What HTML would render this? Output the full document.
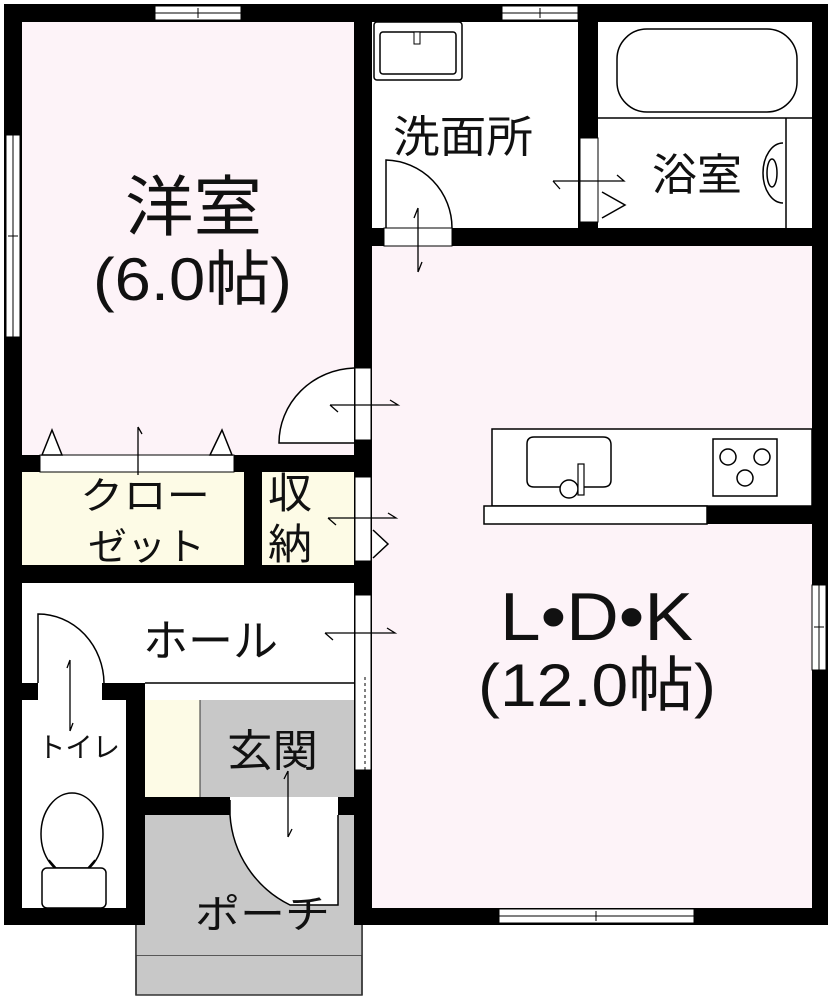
<!DOCTYPE html>
<html><head><meta charset="utf-8"><style>
html,body{margin:0;padding:0;background:#fff;}
svg{display:block;}
text{font-family:"Liberation Sans","Noto Sans CJK JP",sans-serif;fill:#111;}
</style></head><body>
<svg width="832" height="1000" viewBox="0 0 832 1000" xmlns="http://www.w3.org/2000/svg">
<rect x="136" y="900" width="226" height="95" fill="#c8c8c8" stroke="#333" stroke-width="1.5"/>
<line x1="136" y1="955" x2="362" y2="955" stroke="#333" stroke-width="1.5"/>
<rect x="4" y="4" width="824" height="921" fill="#000"/>
<rect x="22" y="22" width="332" height="433" fill="#fdf3f8"/>
<rect x="372" y="22" width="206" height="206" fill="#fff"/>
<rect x="598" y="22" width="214" height="206" fill="#fff"/>
<rect x="372" y="246" width="440" height="662" fill="#fdf3f8"/>
<rect x="22" y="472" width="222" height="93" fill="#fdfbe6"/>
<rect x="262" y="472" width="92" height="93" fill="#fdfbe6"/>
<rect x="22" y="583" width="332" height="100" fill="#fff"/>
<rect x="22" y="700" width="104" height="208" fill="#fff"/>
<rect x="145" y="683" width="209" height="17" fill="#fff"/>
<rect x="145" y="700" width="55" height="97" fill="#fdfbe6"/>
<rect x="200" y="700" width="154" height="97" fill="#c8c8c8"/>
<rect x="145" y="815" width="209" height="110" fill="#c8c8c8"/>
<rect x="136" y="925" width="226" height="30" fill="#c8c8c8"/>
<line x1="136" y1="925" x2="136" y2="995" stroke="#333" stroke-width="1.5"/>
<line x1="362" y1="925" x2="362" y2="995" stroke="#333" stroke-width="1.5"/>
<rect x="384" y="228" width="68" height="18" fill="#fff" stroke="#000" stroke-width="1"/>
<rect x="230" y="797" width="108" height="18" fill="#fff"/>
<path d="M230 800 L230 815 A108 108 0 0 0 290 905 L338 905 L338 815" fill="#fff" stroke="#000" stroke-width="1.5"/>
<rect x="38" y="683" width="64" height="17" fill="#fff"/>
<g fill="#fff" stroke="#000" stroke-width="1">
<rect x="155" y="6" width="86" height="14"/><line x1="155" y1="13" x2="241" y2="13"/><line x1="198" y1="8" x2="198" y2="18"/>
<rect x="502" y="6" width="76" height="14"/><line x1="502" y1="13" x2="578" y2="13"/><line x1="540" y1="8" x2="540" y2="18"/>
<rect x="6" y="135" width="14" height="202"/><line x1="13" y1="135" x2="13" y2="337"/><line x1="8" y1="236" x2="18" y2="236"/>
<rect x="812" y="585" width="14" height="85"/><line x1="819" y1="585" x2="819" y2="670"/><line x1="814" y1="627" x2="824" y2="627"/>
<rect x="499" y="909" width="195" height="14"/><line x1="499" y1="916" x2="694" y2="916"/><line x1="596" y1="911" x2="596" y2="921"/>
<rect x="355" y="368" width="16" height="72"/>
<rect x="355" y="477" width="16" height="84"/>
<rect x="355" y="595" width="16" height="175"/>
<rect x="580" y="138" width="18" height="84"/>
</g>
<rect x="374" y="22" width="88" height="58" rx="3" fill="#fff" stroke="#000" stroke-width="1.5"/>
<rect x="380" y="32" width="76" height="42" rx="3" fill="#fff" stroke="#000" stroke-width="1.5"/>
<rect x="414" y="32" width="6" height="12" fill="#fff" stroke="#000" stroke-width="1"/>
<line x1="598" y1="118" x2="812" y2="118" stroke="#000" stroke-width="1.5"/>
<rect x="617" y="29" width="180" height="83" rx="30" fill="#fff" stroke="#000" stroke-width="1.5"/>
<line x1="786" y1="118" x2="786" y2="228" stroke="#000" stroke-width="1.5"/>
<ellipse cx="772" cy="173" rx="5" ry="14" fill="none" stroke="#000" stroke-width="1.5"/>
<path d="M783 143 A20 30 0 0 0 783 203" fill="none" stroke="#000" stroke-width="1.5"/>
<path d="M602 192 L625 205 L602 218" fill="#fff" stroke="#000" stroke-width="1.5"/>
<path d="M386 228 L386 160 A68 68 0 0 1 452 228" fill="none" stroke="#000" stroke-width="1.5"/>
<path d="M354 368 A78 75 0 0 0 279 443 L354 443" fill="#fff" stroke="#000" stroke-width="1.5"/>
<rect x="40" y="455" width="194" height="17" fill="#fff" stroke="#000" stroke-width="1"/>
<path d="M42 455 L52 430 L62 455 Z M210 455 L222 430 L232 455 Z" fill="#fff" stroke="#000" stroke-width="1.5"/>
<path d="M373 530 L388 544 L373 558" fill="#fff" stroke="#000" stroke-width="1.5"/>
<rect x="492" y="429" width="320" height="77" fill="#fff" stroke="#000" stroke-width="1.5"/>
<rect x="484" y="506" width="223" height="18" fill="#fff" stroke="#000" stroke-width="1.5"/>
<rect x="707" y="506" width="105" height="18" fill="#000"/>
<path d="M534 437 L603 437 Q611 437 611 445 L611 480 Q611 487 603 487 L576 487 Q568 497 561 487 L534 487 Q527 487 527 480 L527 444 Q527 437 534 437 Z" fill="#fff" stroke="#000" stroke-width="1.5"/>
<circle cx="569" cy="489" r="9" fill="#fff" stroke="#000" stroke-width="1.5"/>
<rect x="578" y="464" width="6" height="31" fill="#fff" stroke="#000" stroke-width="1.2"/>
<rect x="713" y="439" width="64" height="57" fill="#fff" stroke="#000" stroke-width="1.5"/>
<circle cx="728" cy="457" r="8" fill="none" stroke="#000" stroke-width="1.5"/>
<circle cx="762" cy="457" r="8" fill="none" stroke="#000" stroke-width="1.5"/>
<circle cx="745" cy="478" r="8" fill="none" stroke="#000" stroke-width="1.5"/>
<path d="M38 683 L38 614 A66 70 0 0 1 104 683" fill="none" stroke="#000" stroke-width="1.5"/>
<line x1="145" y1="683" x2="354" y2="683" stroke="#000" stroke-width="1.5"/>
<line x1="200" y1="700" x2="200" y2="797" stroke="#333" stroke-width="1"/>
<line x1="365" y1="677" x2="365" y2="770" stroke="#000" stroke-width="1" stroke-dasharray="3,3"/>
<ellipse cx="72" cy="834" rx="31" ry="41" fill="#fff" stroke="#000" stroke-width="1.5"/>
<path d="M49 860 L56 868 L88 868 L95 860" fill="none" stroke="#000" stroke-width="1.5"/>
<rect x="42" y="868" width="64" height="40" rx="5" fill="#fff" stroke="#000" stroke-width="1.5"/>
<g stroke="#000" stroke-width="1.3" fill="none">
<path d="M553 181 L624 181 L617 175 M560 189 L553 181"/>
<path d="M418 208 L418 272 M418 208 L414 218 M418 272 L422 262"/>
<path d="M330 405 L398 405 L390 400 M338 412 L330 405"/>
<path d="M138 427 L138 475 M138 427 L142 434"/>
<path d="M328 518 L396 518 L388 513 M336 525 L328 518"/>
<path d="M325 633 L395 633 L387 628 M333 640 L325 633"/>
<path d="M70 660 L70 731 M70 660 L67 668 M70 731 L73 723"/>
<path d="M288 771 L288 837 M288 771 L284 779 M288 837 L292 829"/>
</g>
<g lengthAdjust="spacingAndGlyphs">
<text x="125" y="230" font-size="66" textLength="137" lengthAdjust="spacingAndGlyphs">洋室</text>
<text x="93" y="300" font-size="60" textLength="199" lengthAdjust="spacingAndGlyphs">(6.0帖)</text>
<text x="393" y="152" font-size="44" textLength="140" lengthAdjust="spacingAndGlyphs">洗面所</text>
<text x="652" y="190" font-size="44" textLength="90" lengthAdjust="spacingAndGlyphs">浴室</text>
<text x="80" y="509" font-size="38" textLength="130" lengthAdjust="spacingAndGlyphs">クロー</text>
<text x="88" y="560" font-size="38" textLength="117" lengthAdjust="spacingAndGlyphs">ゼット</text>
<text x="268" y="508" font-size="42" textLength="44" lengthAdjust="spacingAndGlyphs">収</text>
<text x="268" y="559" font-size="42" textLength="44" lengthAdjust="spacingAndGlyphs">納</text>
<text x="143" y="656" font-size="44" textLength="135" lengthAdjust="spacingAndGlyphs">ホール</text>
<text x="500" y="640" font-size="68" textLength="193" lengthAdjust="spacingAndGlyphs">L•D•K</text>
<text x="478" y="706" font-size="60" textLength="238" lengthAdjust="spacingAndGlyphs">(12.0帖)</text>
<text x="38" y="757" font-size="28" textLength="82" lengthAdjust="spacingAndGlyphs">トイレ</text>
<text x="227" y="766" font-size="44" textLength="91" lengthAdjust="spacingAndGlyphs">玄関</text>
<text x="195" y="928" font-size="40" textLength="135" lengthAdjust="spacingAndGlyphs">ポーチ</text>
</g>
</svg>
</body></html>
